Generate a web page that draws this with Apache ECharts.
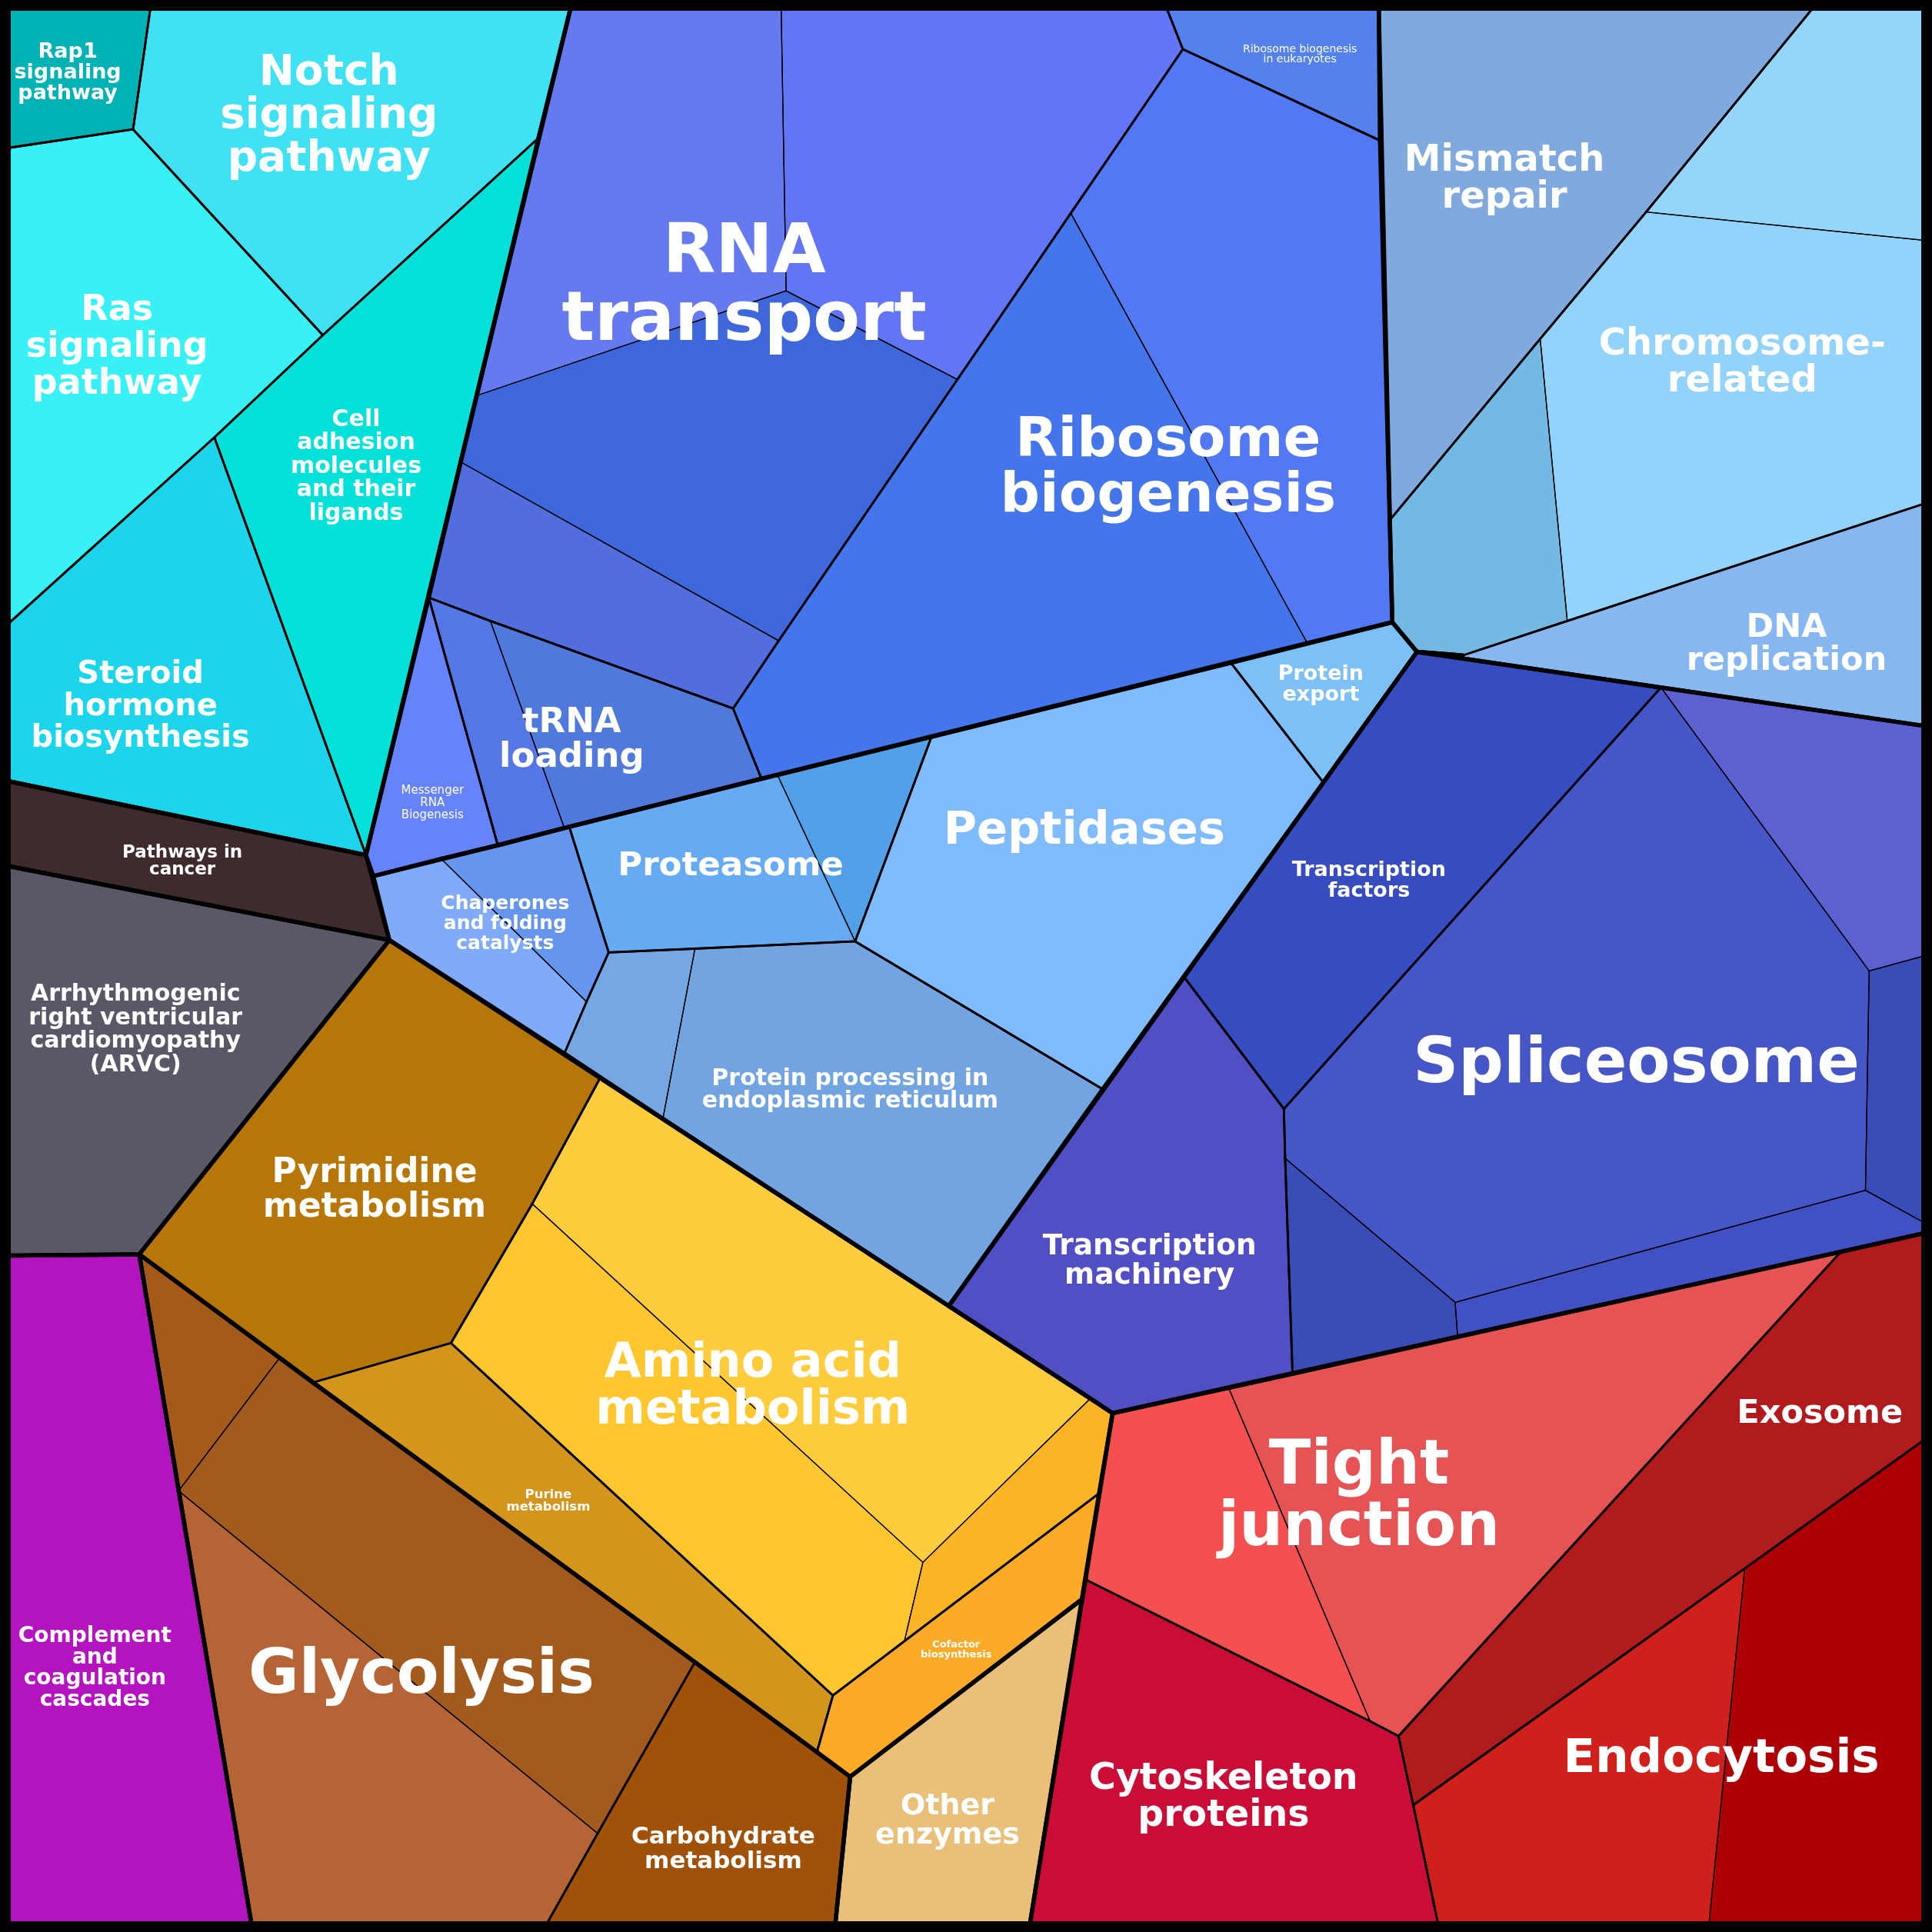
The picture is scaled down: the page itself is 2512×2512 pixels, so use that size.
<!DOCTYPE html>
<html><head><meta charset="utf-8">
<script src="https://cdn.jsdelivr.net/npm/echarts@6/dist/echarts.min.js"></script>
<style>html,body{margin:0;padding:0;background:#000;}#c{width:2512px;height:2512px;}</style>
</head><body><div id="c"></div>
<script>
// ---------- DATA ----------
// top-level categories
const topGroups = ['Signaling','Pathways in cancer','ARVC','Complement','Genetic information','DNA maintenance',
  'Protein fate','Transcription','Nucleotide & amino acid metabolism','Carbohydrate','Other enzymes','Cellular processes'];
// second-level categories (labels) and their parent
const groupNames = [
  'Rap1\nsignaling\npathway','Notch\nsignaling\npathway','Ras\nsignaling\npathway',
  'Cell\nadhesion\nmolecules\nand their\nligands','Steroid\nhormone\nbiosynthesis',
  'Pathways in\ncancer','Arrhythmogenic\nright ventricular\ncardiomyopathy\n(ARVC)',
  'Complement\nand\ncoagulation\ncascades',
  'RNA\ntransport','Ribosome\nbiogenesis','Ribosome biogenesis\nin eukaryotes','tRNA\nloading','Messenger\nRNA\nBiogenesis',
  'Mismatch\nrepair','Chromosome-\nrelated','DNA\nreplication',
  'Chaperones\nand folding\ncatalysts','Proteasome','Peptidases','Protein\nexport','Protein processing in\nendoplasmic reticulum',
  'Transcription\nfactors','Spliceosome','Transcription\nmachinery',
  'Pyrimidine\nmetabolism','Amino acid\nmetabolism','Purine\nmetabolism','Cofactor\nbiosynthesis',
  'Glycolysis','Carbohydrate\nmetabolism','Other\nenzymes',
  'Tight\njunction','Exosome','Endocytosis','Cytoskeleton\nproteins'
];
const groupTop = [0,0,0,0,0, 1,2,3, 4,4,4,4,4, 5,5,5, 6,6,6,6,6, 7,7,7, 8,8,8,8, 9,9,10, 11,11,11,11];
// leaf cells: group membership and Voronoi polygon (chart units 0..1568)
const cellGroup = [0,1,2,3,4,5,6,7, 8,8,8,8,9,9,10,11,11,12, 13,14,14,14,15,
  16,16,17,17,18,19,20,20, 21,22,22,22,22,22,23, 24,25,25,25,26,27, 28,28,28,29,30, 31,31,32,33,33,34];
const cellPolygons = [
  [[7,7],[122,7],[108,105],[7,120]],
  [[122,7],[463,7],[437,112],[262,272],[108,105]],
  [[7,120],[108,105],[262,272],[174,355],[7,506]],
  [[437,112],[297,694],[174,355],[262,272]],
  [[7,506],[174,355],[297,694],[7,634]],
  [[7,634],[297,694],[316,763],[7,703]],
  [[7,703],[316,763],[113,1018],[7,1019]],
  [[7,1019],[113,1018],[204,1561],[7,1561]],
  [[463,7],[634,7],[638,236],[387,321]],
  [[634,7],[947,7],[960,40],[777,308],[638,236]],
  [[387,321],[638,236],[777,308],[632,520],[374,375]],
  [[374,375],[632,520],[595,575],[398,504],[348,485]],
  [[960,40],[1120,114],[1130,505],[1061,522],[869,173]],
  [[869,173],[1061,522],[618,632],[595,575],[632,520],[777,308]],
  [[947,7],[1119,7],[1120,114],[960,40]],
  [[348,485],[398,504],[458,672],[404,686]],
  [[398,504],[595,575],[618,632],[458,672]],
  [[348,485],[404,686],[303,711],[297,694]],
  [[1119,7],[1471,7],[1336,172],[1250,275],[1128,422]],
  [[1471,7],[1561,7],[1561,195],[1336,172]],
  [[1336,172],[1561,195],[1561,409],[1272,504],[1250,275]],
  [[1250,275],[1272,504],[1187,532],[1150,529],[1130,505],[1128,422]],
  [[1187,532],[1272,504],[1561,409],[1561,589],[1150,529]],
  [[303,711],[358,697],[476,813],[458,855],[316,763]],
  [[358,697],[404,686],[462,671],[494,773],[476,813]],
  [[462,671],[618,632],[631,629],[694,764],[494,773]],
  [[631,629],[756,598],[694,764]],
  [[756,598],[999,538],[1074,635],[895,884],[694,764]],
  [[999,538],[1130,505],[1150,529],[1074,635]],
  [[494,773],[564,770],[538,908],[458,855],[476,813]],
  [[564,770],[694,764],[895,884],[770,1060],[538,908]],
  [[1150,529],[1348,558],[1042,900],[961,793]],
  [[1348,558],[1517,788],[1514,966],[1181,1057],[1043,940],[1042,900]],
  [[1348,558],[1561,589],[1561,776],[1517,788]],
  [[1517,788],[1561,776],[1561,992],[1514,966]],
  [[1181,1057],[1514,966],[1561,992],[1561,1001],[1183,1085]],
  [[1043,940],[1181,1057],[1183,1085],[1049,1115]],
  [[961,793],[1042,900],[1043,940],[1049,1115],[903,1147],[770,1060]],
  [[316,763],[487,875],[432,977],[366,1090],[254,1122],[113,1018]],
  [[487,875],[885,1135],[749,1268],[432,977]],
  [[432,977],[749,1268],[734,1332],[676,1376],[366,1090]],
  [[749,1268],[885,1135],[903,1147],[892,1212],[734,1332]],
  [[254,1122],[366,1090],[676,1376],[663,1422],[564,1349]],
  [[734,1332],[892,1212],[878,1298],[690,1442],[663,1422],[676,1376]],
  [[113,1018],[227,1102],[145,1210]],
  [[227,1102],[254,1122],[564,1349],[485,1488],[145,1210]],
  [[145,1210],[485,1488],[444,1561],[204,1561]],
  [[564,1349],[663,1422],[690,1442],[678,1561],[444,1561],[485,1488]],
  [[690,1442],[878,1298],[836,1561],[678,1561]],
  [[903,1147],[997,1126],[1112,1397],[881,1282]],
  [[997,1126],[1494,1016],[1135,1409],[1112,1397]],
  [[1494,1016],[1561,1001],[1561,1169],[1416,1273],[1147,1465],[1135,1409]],
  [[1147,1465],[1416,1273],[1387,1561],[1167,1561]],
  [[1416,1273],[1561,1169],[1561,1561],[1387,1561]],
  [[881,1282],[1112,1397],[1135,1409],[1147,1465],[1167,1561],[836,1561]]
];

// ---------- STYLE ----------
const cellColors = ['#00B2B4','#3FE1F3','#38F1F5','#02E1D8','#1DD5EA','#3F2B2E','#5A5866','#B414BF',
  '#667AF0','#6276F5','#3D67DB','#526EDC','#5278F3','#4475EA','#5581EC','#5577E6','#4F7ADC','#6683F9',
  '#80A9DE','#94D5FC','#92D2FB','#72BAE3','#86B7F1',
  '#80ABFA','#6595EC','#66AAF3','#52A1E8','#80BCFD','#7DC0F6','#75A8E2','#72A4E2',
  '#374DBF','#4756C7','#5D60D1','#3A4DB6','#4151C3','#3A4CB5','#524EC3',
  '#B77708','#FECC3C','#FEC62F','#FEB525','#D4951C','#FBAB27',
  '#A45A18','#A35A1E','#B56535','#A0520A','#E9C07A',
  '#F55050','#E65354','#B21B1E','#D0201C','#AD0006','#CA0D37'];
// label anchor (chart units), font size and line height in px, weight
const labelLayout = [
  {at:[55,59],s:27,lh:27},{at:[267,95],s:55,lh:56},{at:[95,282],s:46,lh:48},{at:[289,379],s:30,lh:30.5},
  {at:[114,574],s:40,lh:41.5},{at:[148,699],s:23,lh:22.5},{at:[110,836],s:30,lh:30.5},{at:[77,1354],s:28,lh:27.8},
  {at:[604,234],s:89,lh:88},{at:[948,381],s:72,lh:72},{at:[1055,44],s:14,lh:13,w:'normal'},{at:[464,601],s:45,lh:45},
  {at:[351,652],s:15,lh:16,w:'normal'},{at:[1221,146],s:48,lh:48},{at:[1414,295],s:48,lh:48},{at:[1450,523],s:43,lh:43},
  {at:[410,750],s:25,lh:25.6},{at:[593,703],s:43.5,lh:44},{at:[880,675],s:59,lh:59},{at:[1072,556],s:27,lh:27},
  {at:[690,885],s:30,lh:29},{at:[1111,715],s:27,lh:27},{at:[1328,865],s:82,lh:82},{at:[933,1024],s:37.5,lh:38},
  {at:[304,966],s:44,lh:45},{at:[611,1126],s:62,lh:61},{at:[445,1218],s:16.5,lh:16},{at:[776,1339],s:13,lh:13},
  {at:[342,1361],s:80,lh:80},{at:[587,1501],s:31,lh:32},{at:[769,1478],s:38,lh:38},
  {at:[1103,1216],s:80,lh:80},{at:[1477,1148],s:43,lh:43},{at:[1397,1428],s:61,lh:61},{at:[993,1459],s:47.5,lh:48}
];
const WIDTH = {1:1.3, 2:2.8, 3:5.5};

// ---------- edges with level from neighbouring cells ----------
function inside(pt, poly){
  let c=false;
  for(let i=0,j=poly.length-1;i<poly.length;j=i++){
    const xi=poly[i][0],yi=poly[i][1],xj=poly[j][0],yj=poly[j][1];
    if(((yi>pt[1])!==(yj>pt[1])) && (pt[0] < (xj-xi)*(pt[1]-yi)/(yj-yi)+xi)) c=!c;
  }
  return c;
}
function cellAt(pt, ex){
  for(let k=0;k<cellPolygons.length;k++){ if(k!==ex && inside(pt,cellPolygons[k])) return k; }
  return -1;
}
const edges=[];
cellPolygons.forEach((poly,i)=>{
  for(let a=0;a<poly.length;a++){
    const p=poly[a], q=poly[(a+1)%poly.length];
    const dx=q[0]-p[0], dy=q[1]-p[1], L=Math.hypot(dx,dy)||1;
    const nx=-dy/L*2, ny=dx/L*2, mx=(p[0]+q[0])/2, my=(p[1]+q[1])/2;
    let j=cellAt([mx+nx,my+ny],i); if(j<0) j=cellAt([mx-nx,my-ny],i);
    let lvl=3;
    if(j>=0){
      const gi=cellGroup[i], gj=cellGroup[j];
      if(gi===gj) lvl=1; else if(groupTop[gi]===groupTop[gj]) lvl=2; else lvl=3;
    }
    edges.push({p,q,lvl});
  }
});
function centroid(poly){
  let x=0,y=0; poly.forEach(v=>{x+=v[0];y+=v[1];}); return [x/poly.length,y/poly.length];
}

const chart = echarts.init(document.getElementById('c'), null, {renderer:'canvas'});
chart.setOption({
  backgroundColor:'#000',
  animation:false,
  grid:{left:0,top:0,right:0,bottom:0,show:false},
  xAxis:{type:'value',min:0,max:1568,show:false},
  yAxis:{type:'value',min:0,max:1568,inverse:true,show:false},
  series:[
    {type:'custom', name:'cells', coordinateSystem:'cartesian2d', silent:true,
     data: cellPolygons.map(centroid),
     renderItem:(params,api)=>{
       const i=params.dataIndex;
       return {type:'polygon', shape:{points:cellPolygons[i].map(v=>api.coord(v))},
         style:{fill:cellColors[i], stroke:cellColors[i], lineWidth:0.5}};
     }},
    {type:'custom', name:'borders', coordinateSystem:'cartesian2d', silent:true,
     data: edges.map(e=>[(e.p[0]+e.q[0])/2,(e.p[1]+e.q[1])/2]),
     renderItem:(params,api)=>{
       const e=edges[params.dataIndex];
       const a=api.coord(e.p), b=api.coord(e.q);
       return {type:'line', z2:e.lvl*10, shape:{x1:a[0],y1:a[1],x2:b[0],y2:b[1]},
         style:{stroke:'#000', lineWidth:WIDTH[e.lvl], lineCap:'round'}};
     }},
    {type:'custom', name:'labels', coordinateSystem:'cartesian2d', silent:true, z:5,
     data: labelLayout.map(l=>l.at),
     renderItem:(params,api)=>{
       const g=params.dataIndex, L=labelLayout[g];
       const pt=api.coord(L.at);
       const sh=Math.max(1,Math.round(L.s/30));
       return {type:'text', x:pt[0], y:pt[1], z2:1000,
         style:{text:groupNames[g], fill:'#fff', fontFamily:'DejaVu Sans', fontWeight:L.w||'bold',
           fontSize:L.s, lineHeight:L.lh, align:'center', verticalAlign:'middle',
           textShadowColor:'rgba(0,0,0,0.85)', textShadowOffsetX:sh, textShadowOffsetY:sh, textShadowBlur:0}};
     }}
  ]
});
</script></body></html>
